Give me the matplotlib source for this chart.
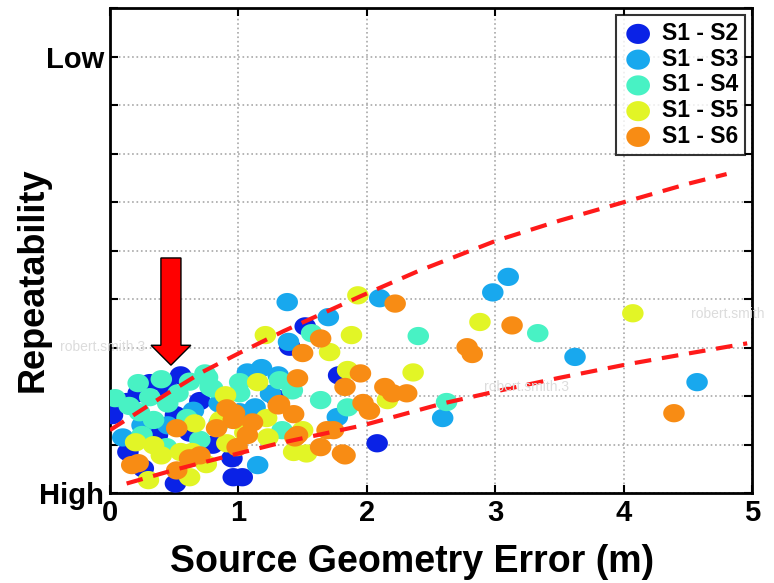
import numpy as np
import matplotlib.pyplot as plt
from matplotlib.path import Path
from matplotlib.patches import FancyArrow

plt.rcParams['font.family'] = ['Liberation Sans', 'DejaVu Sans']
plt.rcParams['font.weight'] = 'bold'

labels = ['S1 - S2', 'S1 - S3', 'S1 - S4', 'S1 - S5', 'S1 - S6']
colors = ['#0a22e6', '#18a8ee', '#48f2c4', '#e2f526', '#f88c14']

s2_x = [0.55, 0.31, 0.22, 0.70, 0.02, 0.51, 0.37, 0.14, 0.51, 0.26, 0.96, 1.03, 0.95,
        2.08, 1.52, 1.40, 1.78, 0.13, 0.62, 0.80, 1.30, 0.45]
s2_y = [2.43, 2.27, 2.06, 1.90, 1.61, 1.61, 1.20, 0.85, 0.20, 0.51, 0.33, 0.33, 0.72,
        1.03, 3.44, 3.02, 2.43, 1.88, 1.25, 1.00, 1.95, 2.15]

s3_x = [1.38, 2.10, 1.70, 1.39, 2.98, 3.10, 3.62, 4.57, 2.59, 1.77, 1.18, 1.07, 1.31,
        1.13, 1.01, 1.15, 0.10, 0.65, 0.85, 0.45, 1.25, 0.25]
s3_y = [3.94, 4.02, 3.63, 3.12, 4.14, 4.46, 2.81, 2.29, 1.55, 1.57, 2.58, 2.49, 2.43,
        1.77, 1.67, 0.58, 1.15, 1.70, 1.85, 1.40, 2.05, 1.40]

s4_x = [1.57, 2.40, 3.33, 2.62, 1.64, 1.85, 0.76, 0.80, 0.22, 0.04, 0.31, 0.53, 0.78,
        0.23, 0.34, 0.25, 0.44, 1.01, 1.32, 1.42, 1.01, 1.34, 0.74, 0.40, 0.62, 0.15,
        0.45, 0.60, 0.85, 0.70]
s4_y = [3.30, 3.24, 3.30, 1.88, 1.92, 1.77, 2.39, 2.16, 2.27, 1.96, 1.98, 2.06, 2.19,
        1.67, 1.51, 1.20, 0.95, 2.29, 2.33, 2.12, 2.06, 1.30, 2.47, 2.35, 2.30, 1.80,
        1.85, 1.55, 1.45, 1.10]

s5_x = [1.21, 1.93, 1.88, 1.71, 2.36, 2.88, 4.07, 2.16, 1.85, 1.15, 1.22, 1.23, 1.50,
        1.43, 1.53, 0.66, 0.34, 0.40, 0.55, 0.64, 0.30, 0.62, 0.91, 0.86, 0.90, 0.20,
        1.05, 0.75]
s5_y = [3.26, 4.08, 3.26, 2.91, 2.49, 3.53, 3.71, 1.92, 2.54, 2.29, 1.55, 1.15, 1.30,
        0.85, 0.82, 1.44, 0.99, 0.78, 0.85, 0.85, 0.27, 0.33, 1.03, 1.51, 2.02, 1.05,
        1.25, 0.60]

s6_x = [2.22, 1.64, 1.50, 2.78, 2.82, 3.13, 4.39, 2.14, 2.20, 2.31, 1.97, 2.02, 1.95,
        1.83, 1.46, 1.32, 1.43, 1.83, 1.74, 1.31, 0.97, 1.11, 1.07, 1.46, 0.99, 1.44,
        1.64, 1.81, 1.69, 0.52, 0.17, 0.22, 0.62, 0.70, 0.52, 0.91, 0.96, 0.83]
s6_y = [3.91, 3.19, 2.89, 3.01, 2.87, 3.46, 1.65, 2.19, 2.06, 2.06, 1.86, 1.70, 2.47,
        2.19, 2.37, 1.84, 1.63, 0.78, 1.30, 1.81, 1.65, 1.46, 1.20, 1.20, 0.95, 1.15,
        0.95, 0.82, 1.30, 1.34, 0.58, 0.62, 0.72, 0.78, 0.47, 1.75, 1.51, 1.34]

series_x = [s2_x, s3_x, s4_x, s5_x, s6_x]
series_y = [s2_y, s3_y, s4_y, s5_y, s6_y]

upper_x = [0.0, 0.45, 0.72, 1.0, 1.35, 1.95, 2.4, 3.0, 3.5, 4.0, 4.5, 4.8]
upper_y = [1.30, 2.06, 2.50, 2.88, 3.34, 4.06, 4.58, 5.20, 5.62, 6.00, 6.38, 6.58]
lower_x = [0.13, 0.5, 0.88, 1.3, 1.97, 2.59, 3.04, 3.5, 4.03, 4.5, 4.96]
lower_y = [0.20, 0.48, 0.74, 1.02, 1.40, 1.85, 2.12, 2.38, 2.66, 2.88, 3.09]

# ellipse marker, a bit wider than tall
t = np.linspace(0, 2 * np.pi, 60)
ellipse = Path(np.column_stack([np.cos(t), 0.85 * np.sin(t)]), closed=True)

fig = plt.figure(figsize=(7.74, 5.83), dpi=100)
ax = fig.add_axes([0.142, 0.154, 0.830, 0.832])

for xs, ys, c, lab in zip(series_x, series_y, colors, labels):
    ax.scatter(xs, ys, s=240, marker=ellipse, color=c, edgecolors='none', label=lab, zorder=3)

ax.plot(upper_x, upper_y, color='#ff1a1a', lw=3, linestyle=(0, (4, 2.6)), zorder=4)
ax.plot(lower_x, lower_y, color='#ff1a1a', lw=3, linestyle=(0, (4, 2.6)), zorder=4)

arrow = FancyArrow(0.475, 4.85, 0, -2.21, width=0.156, head_width=0.31, head_length=0.41,
                   length_includes_head=True, facecolor='#ff0000', edgecolor='black', lw=1, zorder=5)
ax.add_patch(arrow)

ax.set_xlim(0, 5)
ax.set_ylim(0, 10)
ax.set_xticks([0, 1, 2, 3, 4, 5])
ax.set_yticks(range(0, 11))
ax.set_yticklabels(['High', '', '', '', '', '', '', '', '', 'Low', ''])
ax.tick_params(direction='in', length=6, width=1.5, top=True, right=True, labelsize=21, pad=4)
ax.grid(True, linestyle=':', color='#a8a8a8', lw=1.2)
ax.set_axisbelow(True)
for sp in ax.spines.values():
    sp.set_linewidth(2)

ax.set_xlabel('Source Geometry Error (m)', fontsize=27, fontweight='bold')
ax.xaxis.set_label_coords(0.47, -0.105)
ax.set_ylabel('Repeatability', fontsize=26, fontweight='bold')
ax.yaxis.set_label_coords(-0.093, 0.44)

leg = ax.legend(loc='upper right', fontsize=16.5, frameon=True, fancybox=False,
                borderaxespad=0.3, handletextpad=0.4, labelspacing=0.12,
                borderpad=0.3, handlelength=1.3, scatterpoints=1, markerscale=1.1)
leg.get_frame().set_edgecolor('black')
leg.get_frame().set_linewidth(1.5)

# faint watermarks
wm = dict(color='#dcdcdc', fontsize=10, fontweight='normal')
fig.text(0.078, 0.398, 'robert.smith 3', **wm)
fig.text(0.625, 0.33, 'robert.smith.3', **wm)
fig.text(0.893, 0.455, 'robert.smith', **wm)

fig.savefig('out.png', dpi=100)
